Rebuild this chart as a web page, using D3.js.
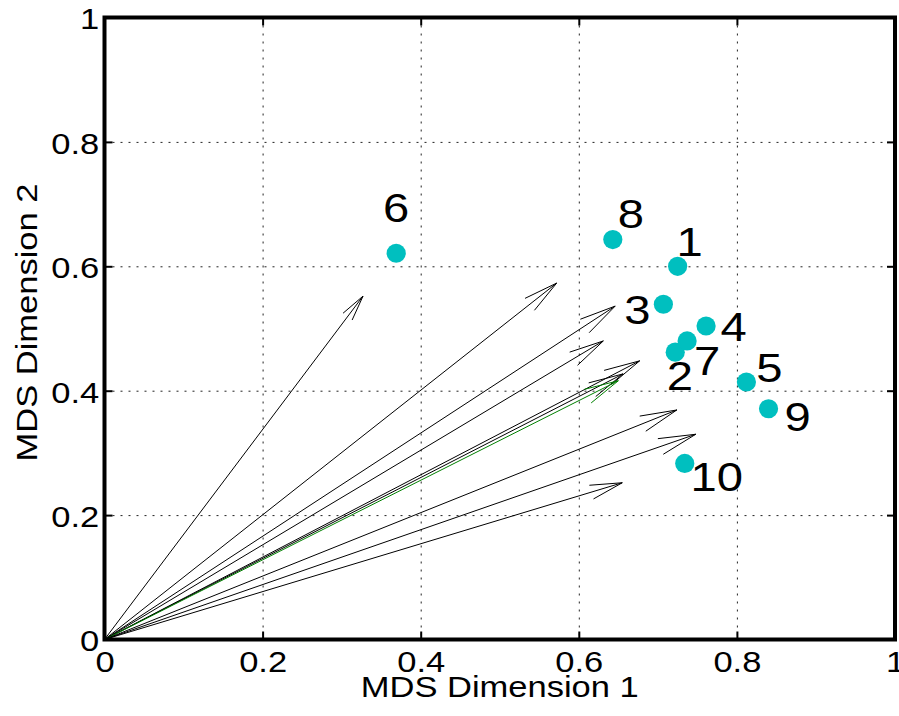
<!DOCTYPE html>
<html>
<head>
<meta charset="utf-8">
<script src="https://cdn.jsdelivr.net/npm/d3@7"></script>
<style>
  body { margin: 0; background: #fff; }
  text { font-family: "Liberation Sans", Arial, sans-serif; fill: #000; }
</style>
</head>
<body>
<script>
const W = 899, H = 716;

// Points (MDS coordinates)
const pointNames = ["1", "2", "3", "4", "5", "6", "7", "8", "9", "10"];
const pointX = [0.725, 0.722, 0.707, 0.761, 0.812, 0.369, 0.737, 0.643, 0.840, 0.734];
const pointY = [0.600, 0.462, 0.539, 0.504, 0.414, 0.621, 0.480, 0.643, 0.371, 0.283];

// Arrows from the origin (tips)
const arrowX = [0.327, 0.572, 0.646, 0.631, 0.677, 0.656, 0.650, 0.724, 0.748, 0.655];
const arrowY = [0.552, 0.573, 0.536, 0.480, 0.448, 0.427, 0.416, 0.369, 0.330, 0.252];
const greenArrow = 6;

const tickValues = [0, 0.2, 0.4, 0.6, 0.8, 1];
const xTitle = "MDS Dimension 1";
const yTitle = "MDS Dimension 2";

// label placement, pixels relative to the point
const labelDx = [12, 4.5, -26, 27.5, 23, 0, 20, 18, 29, 32];
const labelDy = [-10, 38, 20, 15, 0, -31, 34, -12, 22, 28];

const SX = 1.19; // text looks horizontally widened in the original

const x = d3.scaleLinear().domain([0, 1]).range([104.5, 895]);
const y = d3.scaleLinear().domain([0, 1]).range([639.5, 17.5]);

const svg = d3.select("body").append("svg")
    .attr("width", W).attr("height", H);

// grid
const grid = svg.append("g")
    .attr("stroke", "#222").attr("stroke-width", 1)
    .attr("stroke-dasharray", "2,6");
grid.selectAll("line.gx")
    .data(tickValues.slice(1, -1))
    .enter().append("line")
    .attr("x1", d => x(d) + 0.5).attr("x2", d => x(d) + 0.5)
    .attr("y1", y(1)).attr("y2", y(0));
grid.selectAll("line.gy")
    .data(tickValues.slice(1, -1))
    .enter().append("line")
    .attr("y1", d => y(d) + 0.5).attr("y2", d => y(d) + 0.5)
    .attr("x1", x(0)).attr("x2", x(1));

// axes (ticks point inward)
function styleAxis(g) {
    g.select(".domain").remove();
    g.selectAll(".tick line").attr("stroke", "#000").attr("stroke-width", 2);
}
const axBottom = svg.append("g").attr("transform", `translate(0,${y(0)})`)
    .call(d3.axisBottom(x).tickValues(tickValues).tickSize(-8).tickFormat(d => String(d)));
const axLeft = svg.append("g").attr("transform", `translate(${x(0)},0)`)
    .call(d3.axisLeft(y).tickValues(tickValues).tickSize(-8).tickFormat(d => String(d)));
const axTop = svg.append("g").attr("transform", `translate(0,${y(1)})`)
    .call(d3.axisTop(x).tickValues(tickValues).tickSize(-8).tickFormat(""));
const axRight = svg.append("g").attr("transform", `translate(${x(1)},0)`)
    .call(d3.axisRight(y).tickValues(tickValues).tickSize(-8).tickFormat(""));
[axBottom, axLeft, axTop, axRight].forEach(styleAxis);

axBottom.selectAll(".tick text")
    .attr("font-size", 29).attr("font-family", null)
    .attr("x", 0).attr("y", 32.5).attr("dy", null)
    .attr("text-anchor", "middle")
    .attr("transform", `scale(${SX},1)`);
axLeft.selectAll(".tick text")
    .attr("font-size", 29).attr("font-family", null)
    .attr("x", -4.5).attr("y", 11.4).attr("dy", null)
    .attr("text-anchor", "end")
    .attr("transform", `scale(${SX},1)`);
svg.selectAll(".tick text").style("font-family", "'Liberation Sans', Arial, sans-serif");

// arrows
const arrows = svg.append("g").attr("fill", "none").attr("stroke-width", 1);
arrows.selectAll("path")
    .data(arrowX.map((d, i) => i))
    .enter().append("path")
    .attr("stroke", i => i === greenArrow ? "#008000" : "#000")
    .attr("d", i => {
        const x0 = x(0), y0 = y(0), x1 = x(arrowX[i]), y1 = y(arrowY[i]);
        const L = Math.hypot(x1 - x0, y1 - y0);
        const a = Math.atan2(y1 - y0, x1 - x0);
        const h = 0.061 * L, t = 12.5 * Math.PI / 180;
        const b1 = [x1 - h * Math.cos(a - t), y1 - h * Math.sin(a - t)];
        const b2 = [x1 - h * Math.cos(a + t), y1 - h * Math.sin(a + t)];
        return `M${x0},${y0}L${x1},${y1}M${b1[0]},${b1[1]}L${x1},${y1}L${b2[0]},${b2[1]}`;
    });

// points
svg.append("g").selectAll("circle")
    .data(pointNames.map((d, i) => i))
    .enter().append("circle")
    .attr("cx", i => x(pointX[i])).attr("cy", i => y(pointY[i]))
    .attr("r", 9.6).attr("fill", "#00bfbf");

// point labels
svg.append("g").selectAll("text")
    .data(pointNames.map((d, i) => i))
    .enter().append("text")
    .attr("transform", i => `translate(${x(pointX[i]) + labelDx[i]},${y(pointY[i]) + labelDy[i]}) scale(${SX - 0.01},1)`)
    .attr("text-anchor", "middle")
    .attr("font-size", 40)
    .text(i => pointNames[i]);

// frame
svg.append("rect")
    .attr("x", x(0)).attr("y", y(1))
    .attr("width", x(1) - x(0)).attr("height", y(0) - y(1))
    .attr("fill", "none").attr("stroke", "#000").attr("stroke-width", 4);

// axis titles
svg.append("text")
    .attr("transform", `translate(${(x(0) + x(1)) / 2},697) scale(${SX},1)`)
    .attr("text-anchor", "middle").attr("font-size", 29)
    .text(xTitle);
svg.append("text")
    .attr("transform", `translate(37,${(y(0) + y(1)) / 2 - 6}) rotate(-90) scale(${SX},1)`)
    .attr("text-anchor", "middle").attr("font-size", 29)
    .text(yTitle);
</script>
</body>
</html>
